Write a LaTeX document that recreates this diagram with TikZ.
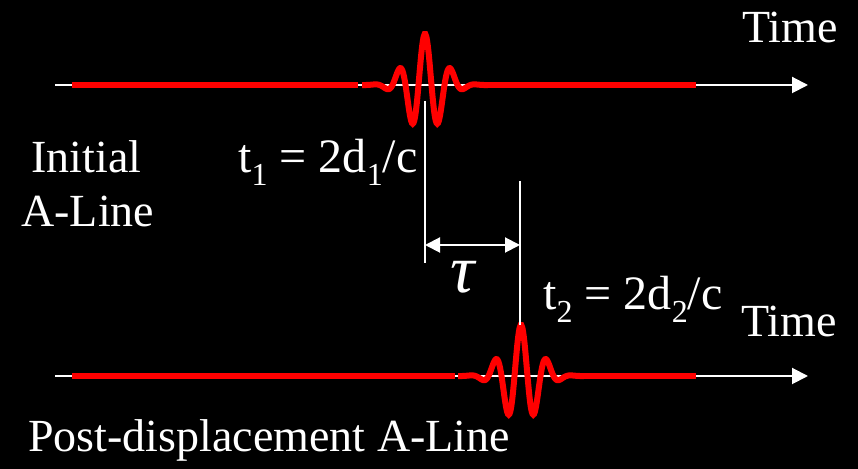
\documentclass[tikz,border=0pt]{standalone}
\usepackage{fontspec}
\setmainfont{Liberation Serif}
\usepackage{tikz}
\usetikzlibrary{arrows.meta}
\usepackage{xcolor}

\newcommand{\lowsub}[1]{\raisebox{-6.5pt}{\fontsize{16}{16}\selectfont #1}}

\begin{document}
\begin{tikzpicture}[
    x=0.5pt, y=-0.5pt,
    every node/.style={inner sep=0pt, text=white, font=\fontsize{23}{27}\selectfont},
    axis/.style={draw=white, line width=1pt, -{Triangle[length=8pt, width=8pt]}},
    echo/.style={draw=red, line width=3pt},
    marker/.style={draw=white, line width=1pt},
    delay/.style={draw=white, line width=1pt, {Triangle[length=7.5pt, width=7.5pt]}-{Triangle[length=7.5pt, width=7.5pt]}}
]

    % Background
    \fill[black] (0,0) rectangle (858,469);

    % Define coordinates
    % Initial A-line
    \coordinate (s1) at (55,85);
    \coordinate (e1) at (808,85);
    \coordinate (r1a) at (72,85);
    \coordinate (r1b) at (358,85);
    \coordinate (r1c) at (488,85);
    \coordinate (r1d) at (696,85);
    \coordinate (p1) at (425,85);

    % Post-displacement A-line
    \coordinate (s2) at (55,376);
    \coordinate (e2) at (808,376);
    \coordinate (r2a) at (72,376);
    \coordinate (r2b) at (455,376);
    \coordinate (r2c) at (584,376);
    \coordinate (r2d) at (696,376);
    \coordinate (p2) at (521,376);

    % Echo markers
    \coordinate (m1top) at (425,101);
    \coordinate (m1bot) at (425,263);
    \coordinate (m2top) at (520,181);
    \coordinate (m2bot) at (520,325);
    \coordinate (d1) at (425,245);
    \coordinate (d2) at (520,245);

    % Time axes
    \draw[axis] (s1) -- (e1);
    \draw[axis] (s2) -- (e2);

    % Red traces
    \draw[echo] (r1a) -- (r1b);
    \draw[echo] (r1c) -- (r1d);
    \draw[echo] (r2a) -- (r2b);
    \draw[echo] (r2c) -- (r2d);

    % Echo pulses
    \draw[echo, shift={(p1)}, smooth, samples=160, domain=-3.7:3.7]
        plot ({17*\x}, {-51*exp(-0.5*\x*\x)*cos(235.4*\x)});
    \draw[echo, shift={(p2)}, smooth, samples=160, domain=-3.7:3.7]
        plot ({17*\x}, {-51*exp(-0.5*\x*\x)*cos(235.4*\x)});

    % Delay between echoes
    \draw[marker] (m1top) -- (m1bot);
    \draw[marker] (m2top) -- (m2bot);
    \draw[delay] (d1) -- (d2);
    \node (tau) at (463,277) {\fontsize{34}{34}\selectfont\itshape τ};

    % Labels
    \node (time1) [anchor=base west] at (742,43) {Time};
    \node (time2) [anchor=base west] at (741,337) {Time};
    \node (init1) [anchor=base west] at (31,173) {Initial};
    \node (init2) [anchor=base west] at (21,227) {A-Line};
    \node (t1) [anchor=base west] at (238,173) {\fontsize{24}{28}\selectfont t\lowsub{1} = 2d\lowsub{1}/c};
    \node (t2) [anchor=base west] at (543,310) {\fontsize{24}{28}\selectfont t\lowsub{2} = 2d\lowsub{2}/c};
    \node (post) [anchor=base west] at (28,452) {Post-displacement A-Line};
\end{tikzpicture}
\end{document}
